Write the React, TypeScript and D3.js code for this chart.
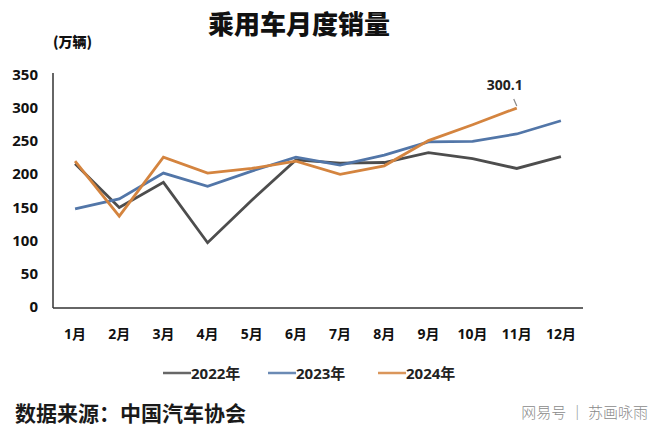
import React from "react";
import * as d3 from "d3";

const months = ["1月","2月","3月","4月","5月","6月","7月","8月","9月","10月","11月","12月"];
const yTicks = [0, 50, 100, 150, 200, 250, 300, 350];
const s2022 = [216, 150, 188, 97, 161, 222, 217, 218, 233, 224, 209, 227];
const s2023 = [148, 163, 202, 182, 205, 226, 214, 229, 249, 250, 261, 281];
const s2024 = [220, 137, 226, 202, 209, 220, 200, 213, 251, 275, 300.1];
const seriesNames = ["2022年", "2023年", "2024年"];
const seriesColors = ["#4d4d4d", "#5276a8", "#d4843f"];

const W = 660, H = 435;
const x0 = 53, x1 = 583, yTop = 75, yBottom = 307;

export default function App() {
  const x = d3.scalePoint<string>().domain(months).range([x0, x1]).padding(0.5);
  const y = d3.scaleLinear().domain([0, 350]).range([yBottom, yTop]);
  const line = d3.line<number>().x((_, i) => x(months[i]) as number).y(d => y(d));
  const all = [s2022, s2023, s2024];
  const font = "'Open Sans', 'Noto Sans CJK SC', sans-serif";
  const cjk = "'Noto Sans CJK SC', sans-serif";
  const lastIdx = s2024.length - 1;
  const lx = x(months[lastIdx]) as number;
  const ly = y(s2024[lastIdx]);
  const legendX = [163, 268, 378];
  return (
    <svg width={W} height={H} style={{ position: "absolute", left: 0, top: 0, background: "#fff" }}>
      <rect width={W} height={H} fill="#fff" />
      <text x={299} y={34} textAnchor="middle" fontFamily={cjk} fontWeight={900} fontSize={26} fill="#111">乘用车月度销量</text>
      <text x={53} y={47} fontFamily={cjk} fontWeight={900} fontSize={14} fill="#111">(万辆)</text>
      {yTicks.map(t => (
        <text key={t} x={38} y={y(t) + 5} textAnchor="end" fontFamily={font} fontWeight={700} fontSize={15} fill="#111">{t}</text>
      ))}
      <line x1={x0} x2={x0} y1={73} y2={yBottom + 1} stroke="#333" strokeWidth={1.5} />
      <line x1={x0} x2={x1} y1={yBottom + 1} y2={yBottom + 1} stroke="#333" strokeWidth={1.5} />
      {months.map(m => (
        <text key={m} x={x(m) as number} y={339} textAnchor="middle" fontFamily={font} fontWeight={700} fontSize={14} fill="#111">{m}</text>
      ))}
      {all.map((s, i) => (
        <path key={i} d={line(s) || ""} fill="none" stroke={seriesColors[i]} strokeWidth={2.8} strokeLinejoin="miter" />
      ))}
      <line x1={lx - 3} y1={ly - 9} x2={lx} y2={ly - 2} stroke="#888" strokeWidth={1.2} />
      <text x={lx - 12} y={ly - 18} textAnchor="middle" fontFamily={font} fontWeight={700} fontSize={14} fill="#222">{s2024[lastIdx].toFixed(1)}</text>
      {seriesNames.map((n, i) => (
        <g key={n}>
          <line x1={legendX[i]} x2={legendX[i] + 28} y1={373} y2={373} stroke={seriesColors[i]} strokeWidth={2.5} opacity={0.85} />
          <text x={legendX[i] + 28} y={379} fontFamily={font} fontWeight={700} fontSize={15} fill="#222">{n}</text>
        </g>
      ))}
      <text x={15} y={421} fontFamily={cjk} fontWeight={600} fontSize={21} fill="#1a1a1a">数据来源：中国汽车协会</text>
      <text x={648} y={418} textAnchor="end" fontFamily={cjk} fontWeight={300} fontSize={15} fill="#8a8a8a">网易号 │ 苏画咏雨</text>
    </svg>
  );
}
